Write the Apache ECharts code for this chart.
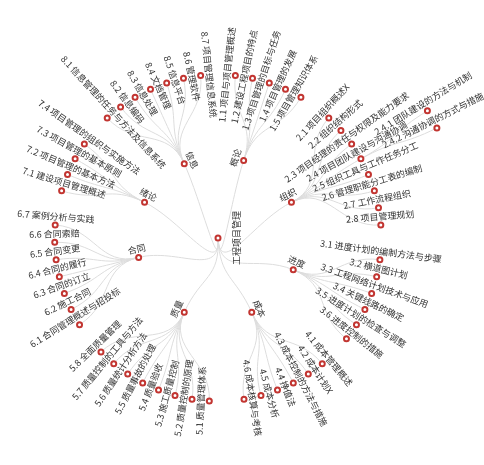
<!DOCTYPE html>
<html><head><meta charset="utf-8">
<script src="https://cdn.jsdelivr.net/npm/echarts@6/dist/echarts.min.js"></script>
<style>html,body{margin:0;padding:0;background:#fff}#main{width:484px;height:465px}</style>
</head><body><div id="main"></div>
<script>
const rootName = '工程项目管理';
const chapterNames = ['概论', '组织', '进度', '成本', '质量', '合同', '绪论', '信息'];
const chapter1Leaves = ['1.1 项目与项目管理概述', '1.2 建设工程项目的特点', '1.3 项目管理的目标与任务', '1.4 项目管理的发展', '1.5 项目管理知识体系'];
const chapter2Leaves = ['2.1 项目组织概述X', '2.2 组织结构形式', '2.3 项目经理的责任与权限及能力要求', '2.4 项目团队建设与沟通协调', '2.5 组织工具与工作任务分工', '2.6 管理职能分工表的编制', '2.7 工作流程组织', '2.8 项目管理规划'];
const chapter2Deep = ['2.4.1 团队建设的方法与机制', '2.4.2 沟通协调的方式与措施'];
const chapter3Leaves = ['3.1 进度计划的编制方法与步骤', '3.2 横道图计划', '3.3 工程网络计划技术与应用', '3.4 关键线路的确定', '3.5 进度计划的检查与调整', '3.6 进度控制的措施'];
const chapter4Leaves = ['4.1 成本管理概述', '4.2 成本计划X', '4.3 成本控制的方法与措施', '4.4 挣值法', '4.5 成本分析', '4.6 成本核算与考核'];
const chapter5Leaves = ['5.1 质量管理体系', '5.2 质量控制的原理', '5.3 施工质量控制', '5.4 质量验收', '5.5 质量事故的处理', '5.6 质量统计分析方法', '5.7 质量控制的工具与方法', '5.8 全面质量管理'];
const chapter6Leaves = ['6.1 合同管理概述与招投标', '6.2 施工合同', '6.3 合同的订立', '6.4 合同的履行', '6.5 合同变更', '6.6 合同索赔', '6.7 案例分析与实践'];
const chapter7Leaves = ['7.1 建设项目管理概述', '7.2 项目管理的基本方法', '7.3 项目管理的基本原则', '7.4 项目管理的组织与实施方法'];
const chapter8Leaves = ['8.1 信息管理的任务与方法及信息系统', '8.2 信息编码', '8.3 信息处理', '8.4 文档管理', '8.5 信息平台', '8.6 管理软件', '8.7 项目管理信息系统'];

const leafGroups = [chapter1Leaves, chapter2Leaves, chapter3Leaves, chapter4Leaves, chapter5Leaves, chapter6Leaves, chapter7Leaves, chapter8Leaves];

const treeData = {
  name: rootName,
  label: { rotate: 90, position: 'bottom', offset: [10, 0] },
  children: chapterNames.map(function (cn, i) {
    return {
      name: cn,
      children: leafGroups[i].map(function (ln) {
        const node = { name: ln };
        if (ln.indexOf('2.4 ') === 0) {
          node.children = chapter2Deep.map(function (d) { return { name: d }; });
        }
        return node;
      })
    };
  })
};

const chart = echarts.init(document.getElementById('main'));
chart.setOption({
  animation: false,
  series: [{
    type: 'tree',
    layout: 'radial',
    data: [treeData],
    left: -27, top: -7, width: 490, height: 490,
    symbol: 'emptyCircle',
    symbolSize: 5,
    expandAndCollapse: false,
    initialTreeDepth: -1,
    itemStyle: { color: '#c23531', borderColor: '#c23531', borderWidth: 1.2 },
    lineStyle: { color: '#ddd', width: 1, curveness: 0.5 },
    label: {
      position: 'top',
      fontSize: 9,
      color: '#333',
      fontFamily: 'Noto Sans CJK SC'
    }
  }]
});
</script>
</body></html>
